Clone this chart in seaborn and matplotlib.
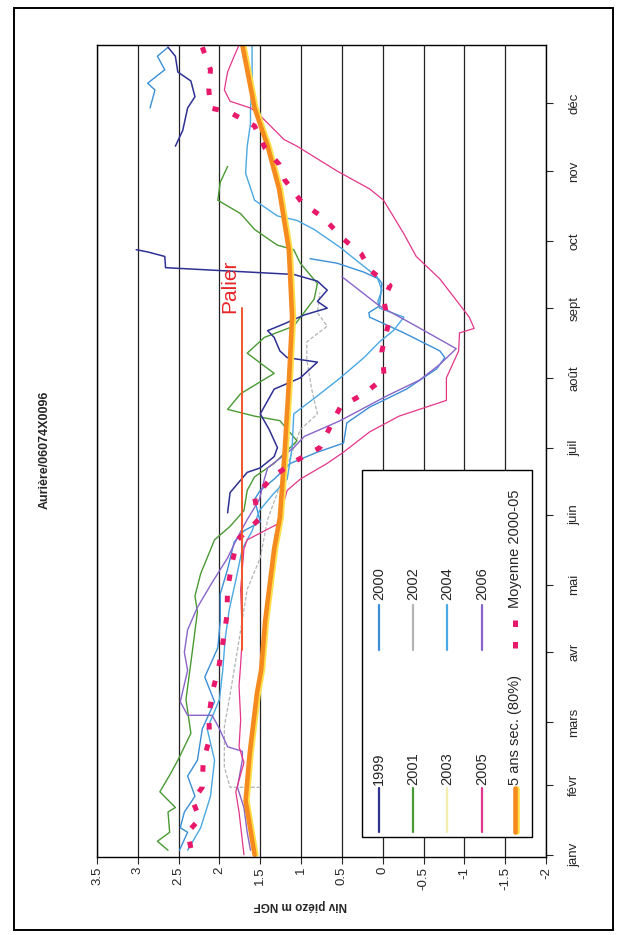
import matplotlib
matplotlib.use("Agg")
import numpy as np
import pandas as pd
import matplotlib.pyplot as plt
import matplotlib.patheffects as pe
from matplotlib.lines import Line2D
from matplotlib.patches import Rectangle
import seaborn as sns

sns.set_style("white")
plt.rcParams['font.family'] = ['Liberation Sans', 'DejaVu Sans']

# ---------------------------------------------------------------- data
# day of year (0 = 1 Jan) and piezometric level (m NGF)
months = ["janv", "févr", "mars", "avr", "mai", "juin",
          "juil", "août", "sept", "oct", "nov", "déc"]
month_start = [0, 31, 59, 90, 120, 151, 181, 212, 243, 273, 304, 334]
level_ticks = [3.5, 3, 2.5, 2, 1.5, 1, 0.5, 0, -0.5, -1, -1.5, -2]

days_1999_a = [152, 161, 170, 172, 177, 181, 189, 196, 207, 212, 219, 221, 224,
               230, 233, 236, 240, 243, 246, 251, 255, 258, 261, 266, 268, 269]
lvl_1999_a = [1.90, 1.87, 1.66, 1.50, 1.33, 1.29, 1.39, 1.50, 1.33, 1.01, 0.80, 1.17, 1.26,
              1.33, 1.41, 1.21, 0.96, 0.68, 0.80, 0.68, 0.80, 1.09, 2.66, 2.67, 2.88, 3.02]
days_1999_b = [315, 322, 332, 337, 344, 348, 355, 359]
lvl_1999_b = [2.54, 2.45, 2.39, 2.30, 2.35, 2.51, 2.54, 2.63]

days_2000_a = [2, 10, 12, 19, 26, 35, 42, 56, 68, 79, 92, 104, 116, 127, 139, 144, 148,
               158, 162, 167, 174, 179, 183, 192, 199, 207, 216, 221, 224, 232, 239, 241,
               244, 254, 256, 259, 263, 265]
lvl_2000_a = [2.49, 2.39, 2.48, 2.43, 2.30, 2.39, 2.27, 2.21, 2.06, 2.18, 2.02, 1.99, 1.99,
              1.90, 1.82, 1.70, 1.50, 1.57, 1.50, 1.33, 1.13, 0.80, 0.48, 0.44, 0.16, -0.29,
              -0.66, -0.76, -0.70, -0.26, 0.16, 0.17, 0.04, 0.01, 0.05, 0.23, 0.56, 0.89]
days_2000_b = [332, 340, 343, 349, 355, 359]
lvl_2000_b = [2.85, 2.79, 2.88, 2.67, 2.76, 2.63]

days_2001 = [2, 6, 10, 19, 21, 28, 36, 42, 54, 69, 91, 108, 115, 125, 140, 146, 153, 162,
             168, 174, 184, 193, 195, 198, 205, 214, 223, 230, 235, 247, 254, 263, 269,
             271, 278, 285, 291, 299, 306]
lvl_2001 = [2.63, 2.76, 2.61, 2.63, 2.54, 2.73, 2.60, 2.51, 2.35, 2.41, 2.33, 2.27, 2.30,
            2.23, 2.06, 1.87, 1.70, 1.66, 1.57, 1.33, 1.05, 1.26, 1.57, 1.90, 1.74, 1.33,
            1.66, 1.45, 1.09, 0.84, 0.80, 1.01, 1.09, 1.29, 1.57, 1.74, 2.02, 1.99, 1.90]

days_2002 = [30, 30, 39, 57, 69, 91, 118, 132, 149, 167, 189, 196, 207, 220, 228, 235, 241, 250]
lvl_2002 = [1.50, 1.87, 1.94, 1.94, 1.88, 1.78, 1.66, 1.50, 1.41, 1.23, 1.01, 0.80, 0.87,
            0.93, 0.93, 0.68, 0.80, 0.77]

days_2004 = [2, 12, 26, 42, 56, 69, 82, 96, 109, 122, 136, 144, 153, 160, 167, 181, 196,
             204, 212, 221, 228, 233, 239, 243, 246, 251, 257, 263, 270, 278, 282, 284,
             291, 303, 315, 325, 331, 344, 360]
lvl_2004 = [2.39, 2.23, 2.11, 2.06, 2.15, 2.00, 1.96, 1.93, 1.88, 1.80, 1.72, 1.60, 1.51,
            1.35, 1.17, 1.11, 1.09, 0.80, 0.52, 0.23, 0.04, -0.13, -0.26, 0.04, 0.06, 0.01,
            0.07, 0.28, 0.52, 0.84, 1.05, 1.29, 1.57, 1.68, 1.66, 1.62, 1.62, 1.60, 1.60]

days_2005 = [0, 19, 28, 41, 48, 60, 75, 85, 97, 118, 136, 140, 147, 162, 167, 174, 179,
             188, 195, 202, 212, 224, 232, 234, 239, 248, 256, 266, 276, 291, 296, 304,
             315, 318, 330, 332, 335, 340, 348, 355, 360]
lvl_2005 = [1.70, 1.76, 1.80, 1.70, 1.76, 1.74, 1.76, 1.74, 1.72, 1.74, 1.70, 1.66, 1.29,
            1.17, 1.01, 0.68, 0.48, 0.16, -0.20, -0.78, -0.78, -0.93, -0.94, -1.12, -1.06,
            -0.87, -0.70, -0.41, -0.26, -0.01, 0.16, 0.56, 1.05, 1.21, 1.54, 1.62, 1.87,
            1.94, 1.90, 1.82, 1.76]

days_2006 = [2, 10, 21, 30, 42, 46, 48, 56, 62, 62, 68, 82, 90, 100, 110, 121, 132, 141,
             149, 158, 167, 172, 181, 186, 189, 193, 204, 211, 218, 225, 235, 244, 257]
lvl_2006 = [1.62, 1.66, 1.70, 1.78, 1.72, 1.72, 1.90, 2.00, 2.09, 2.39, 2.48, 2.39, 2.43,
            2.39, 2.27, 2.09, 1.90, 1.78, 1.66, 1.51, 1.45, 1.41, 1.09, 0.96, 0.77, 0.52,
            -0.05, -0.45, -0.70, -0.90, -0.41, 0.04, 0.50]

days_dry5 = [0, 24, 45, 72, 82, 104, 136, 150, 165, 180, 210, 239, 269, 296, 315, 332, 360]
lvl_dry5 = [1.57, 1.68, 1.63, 1.54, 1.49, 1.44, 1.33, 1.26, 1.23, 1.20, 1.15, 1.11, 1.15,
            1.27, 1.41, 1.57, 1.72]

days_mean = [3, 10, 16, 24, 30, 41, 52, 61, 72, 83, 96, 106, 118, 129, 140, 149, 159, 168,
             175, 181, 192, 199, 205, 212, 224, 236, 247, 253, 260, 267, 274, 283, 290,
             300, 307, 314, 324, 330, 332, 340, 349, 359]
lvl_mean = [2.35, 2.39, 2.24, 2.33, 2.21, 2.20, 2.12, 2.13, 2.09, 2.01, 1.95, 1.91, 1.90,
            1.85, 1.78, 1.52, 1.57, 1.35, 1.07, 0.77, 0.62, 0.52, 0.23, -0.02, 0.01, -0.07,
            -0.01, -0.09, 0.16, 0.26, 0.49, 0.72, 0.99, 1.20, 1.27, 1.44, 1.57, 1.87, 2.11,
            2.13, 2.11, 2.21]

palier_days = [91, 243]
palier_lvl = [1.72, 1.72]

# ---------------------------------------------------------------- styles
C = {
    "1999": "#2e3192", "2000": "#3b8fd6", "2001": "#4a9a34", "2002": "#b4b4b4",
    "2003": "#f4efb0", "2004": "#4aa8e2", "2005": "#e3368a", "2006": "#8a64c8",
    "dry": "#f58a1f", "dry_edge": "#ffe04a", "mean": "#e8196b", "palier": "#f0562a",
}
MEAN_DASH = (0, (1.3, 3.0))

W, H = 622, 935


def fx(px):
    return px / W


def fy(py):
    return 1 - py / H


fig = plt.figure(figsize=(W / 100, H / 100), dpi=100)
fig.patch.set_facecolor("white")
ax = fig.add_axes([fx(97), fy(857), fx(546) - fx(97), fy(45) - fy(857)])


def draw(days, levels, color, lw, **kw):
    df = pd.DataFrame({"jour": days, "niveau": levels})
    sns.lineplot(data=df, x="niveau", y="jour", orient="y", sort=False,
                 estimator=None, color=color, lw=lw, ax=ax, legend=False, **kw)


dry_effects = [pe.SimpleLineShadow(offset=(1.3, 0), shadow_color=C["dry_edge"], alpha=1),
               pe.Normal()]

draw(days_2002, lvl_2002, C["2002"], 0.9, linestyle=(0, (3, 1.5)))
draw(days_2001, lvl_2001, C["2001"], 1.0)
draw(days_2000_a, lvl_2000_a, C["2000"], 1.0)
draw(days_2000_b, lvl_2000_b, C["2000"], 1.0)
draw(days_2004, lvl_2004, C["2004"], 1.0)
draw(days_2006, lvl_2006, C["2006"], 1.0)
draw(days_2005, lvl_2005, C["2005"], 0.9)
draw(days_1999_a, lvl_1999_a, C["1999"], 1.1)
draw(days_1999_b, lvl_1999_b, C["1999"], 1.1)
draw(days_dry5, lvl_dry5, C["dry"], 3.3, path_effects=dry_effects)
draw(days_mean, lvl_mean, C["mean"], 3.6, linestyle=MEAN_DASH, dash_capstyle="butt")
draw(palier_days, palier_lvl, C["palier"], 1.4)

ax.text(1.87, 241, "Palier", rotation=90, rotation_mode="anchor", ha="left",
        va="center", color="#e8262a", fontsize=15)

# ---------------------------------------------------------------- axes
ax.set_xlim(3.5, -2)
ax.set_ylim(-1, 360)
ax.set_xlabel("")
ax.set_ylabel("")
ax.set_xticks(level_ticks)
ax.set_xticklabels([f"{v:g}" for v in level_ticks], rotation=90, fontsize=9.5)
ax.yaxis.tick_right()
ax.set_yticks(month_start)
ax.set_yticklabels(months, rotation=90, va="center", fontsize=9.5)
ax.tick_params(axis="x", bottom=True, direction="out", length=5, width=0.8, pad=2)
ax.tick_params(axis="y", right=True, left=False, direction="out", length=5,
               width=0.8, pad=11)
ax.grid(axis="x", color="#222222", lw=0.9)
ax.grid(axis="y", visible=False)
for s in ax.spines.values():
    s.set_color("black")
    s.set_linewidth(1.0)

fig.text(fx(45), fy(450), "Aurière/06074X0096", rotation=90, ha="center",
         va="center", fontsize=9, weight="bold")
fig.text(fx(300), fy(905), "Niv piézo m NGF", rotation=180, ha="center",
         va="center", fontsize=8.5, weight="bold")

# ---------------------------------------------------------------- legend
fig.add_artist(Rectangle((fx(362), fy(837)), fx(532) - fx(362), fy(470) - fy(837),
                         transform=fig.transFigure, facecolor="white",
                         edgecolor="black", lw=1.0, zorder=10))

legend_rows = [
    (379, ("1999", C["1999"]), ("2000", C["2000"])),
    (413, ("2001", C["2001"]), ("2002", C["2002"])),
    (447, ("2003", C["2003"]), ("2004", C["2004"])),
    (482, ("2005", C["2005"]), ("2006", C["2006"])),
]
for xp, left, right in legend_rows:
    for (label, col), (y0, y1, yt) in ((left, (832, 788, 785)), (right, (650, 605, 600))):
        fig.add_artist(Line2D([fx(xp), fx(xp)], [fy(y0), fy(y1)], transform=fig.transFigure,
                              color=col, lw=1.6, zorder=11))
        fig.text(fx(xp), fy(yt), label, rotation=90, rotation_mode="anchor", ha="left",
                 va="center", fontsize=10.5, zorder=11)

fig.add_artist(Line2D([fx(515), fx(515)], [fy(832), fy(788)], transform=fig.transFigure,
                      color=C["dry"], lw=3.3, zorder=11, path_effects=dry_effects))
fig.text(fx(515), fy(785), "5 ans sec. (80%)", rotation=90, rotation_mode="anchor",
         ha="left", va="center", fontsize=10.5, zorder=11)
fig.add_artist(Line2D([fx(515), fx(515)], [fy(648), fy(612)], transform=fig.transFigure,
                      color=C["mean"], lw=3.6, linestyle=MEAN_DASH,
                      dash_capstyle="butt", zorder=11))
fig.text(fx(515), fy(608), "Moyenne 2000-05", rotation=90, rotation_mode="anchor",
         ha="left", va="center", fontsize=10.5, zorder=11)

# page frame
fig.add_artist(Rectangle((fx(14), fy(930)), fx(613) - fx(14), fy(8) - fy(930),
                         transform=fig.transFigure, fill=False, edgecolor="black",
                         lw=1.4, zorder=12))

fig.savefig("out.png", dpi=100)
